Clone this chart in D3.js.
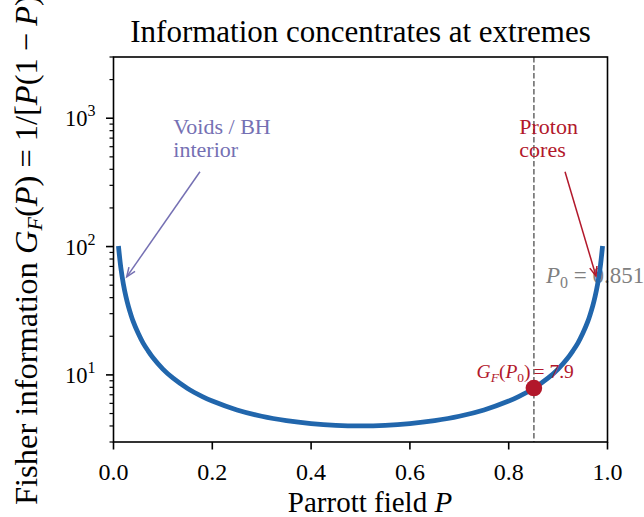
<!DOCTYPE html>
<html><head><meta charset="utf-8">
<script src="https://cdn.jsdelivr.net/npm/d3@7"></script>
<style>
body{margin:0;background:#fff}
svg text{font-family:"Liberation Serif","Times New Roman",serif}
</style>
</head><body><svg id="c" width="644" height="517"></svg>
<script>
// ---- data ----
const P = [0.01,0.015,0.02,0.025,0.03,0.04,0.05,0.06,0.07,0.08,0.10,0.12,0.15,0.18,0.20,0.25,0.30,0.35,0.40,0.45,0.50,
           0.55,0.60,0.65,0.70,0.75,0.80,0.82,0.85,0.88,0.90,0.92,0.93,0.94,0.95,0.96,0.97,0.975,0.98,0.985,0.99];
const G = [101.0,67.7,51.0,41.0,34.4,26.0,21.1,17.7,15.4,13.6,11.1,9.47,7.84,6.78,6.25,5.33,4.76,4.40,4.17,4.04,4.00,
           4.04,4.17,4.40,4.76,5.33,6.25,6.78,7.84,9.47,11.1,13.6,15.4,17.7,21.1,26.0,34.4,41.0,51.0,67.7,101.0];
const xTicks = [0,0.2,0.4,0.6,0.8,1.0];
const xTickLabels = ["0.0","0.2","0.4","0.6","0.8","1.0"];
const yTicks = [10,100,1000];
const yTickExps = ["1","2","3"];
const yMinor = [3,4,5,6,7,8,9,20,30,40,50,60,70,80,90,200,300,400,500,600,700,800,900,2000,3000];
const P0 = 0.851;
const GP0 = 7.9;
const voidsLines = ["Voids / BH","interior"];
const protonLines = ["Proton","cores"];

// ---- layout ----
const L=113.5,R=607.5,T=57,B=442;
const x = d3.scaleLinear().domain([0,1]).range([L,R]);
const y = d3.scaleLog().domain([3,3000]).range([B,T]);
const svg = d3.select("#c");
const blue="#2166ac", red="#b2182b", purple="#7570b3", gray="#808080";

// P0 label (below curve)
const p0t = svg.append("text").attr("x",x(0.8755)).attr("y",y(51.8))
  .attr("font-size",23).attr("fill",gray);
p0t.append("tspan").attr("font-style","italic").text("P");
p0t.append("tspan").attr("font-size",16).attr("dy",5).text("0");
p0t.append("tspan").attr("dy",-5).text(" = 0.851");

// dashed line
svg.append("line").attr("x1",x(P0)).attr("x2",x(P0)).attr("y1",T).attr("y2",B)
  .attr("stroke","#707070").attr("stroke-width",1.6).attr("stroke-dasharray","5.5,2.5");

svg.append("clipPath").attr("id","clip").append("rect").attr("x",L).attr("y",T).attr("width",R-L).attr("height",B-T);

// curve
const pts = P.map((p,i)=>[p,G[i]]);
svg.append("path").datum(pts).attr("clip-path","url(#clip)")
  .attr("d",d3.line().x(d=>x(d[0])).y(d=>y(d[1])).curve(d3.curveCatmullRom))
  .attr("fill","none").attr("stroke",blue).attr("stroke-width",4.8).attr("stroke-linecap","butt");

// marker
svg.append("circle").attr("cx",x(P0)).attr("cy",y(GP0)).attr("r",8.3).attr("fill",red);
const gt = svg.append("text").attr("x",x(0.735)).attr("y",y(9.41)).attr("font-size",19.5).attr("fill",red);
gt.append("tspan").attr("font-style","italic").text("G");
gt.append("tspan").attr("font-style","italic").attr("font-size",13.5).attr("dy",3.5).text("F");
gt.append("tspan").attr("dy",-3.5).text("(");
gt.append("tspan").attr("font-style","italic").text("P");
gt.append("tspan").attr("font-size",13.5).attr("dy",3.5).text("0");
gt.append("tspan").attr("dy",-3.5).text(")");
gt.append("tspan").attr("dx",3).text("= 7.9");

// annotations
function arrow(from,to,color){
  const x1=x(from[0]),y1=y(from[1]),x2=x(to[0]),y2=y(to[1]);
  svg.append("line").attr("x1",x1).attr("y1",y1).attr("x2",x2).attr("y2",y2)
    .attr("stroke",color).attr("stroke-width",1.5);
  const a=Math.atan2(y1-y2,x1-x2), len=10, sp=0.38;
  const p = `M${x2+len*Math.cos(a+sp)},${y2+len*Math.sin(a+sp)}L${x2},${y2}L${x2+len*Math.cos(a-sp)},${y2+len*Math.sin(a-sp)}`;
  svg.append("path").attr("d",p).attr("fill","none").attr("stroke",color).attr("stroke-width",1.5);
}
function lines(arr,pos,color){
  const t=svg.append("text").attr("x",x(pos[0])).attr("y",y(pos[1])).attr("font-size",22).attr("fill",color);
  arr.forEach((s,i)=>t.append("tspan").attr("x",x(pos[0])).attr("dy",i?23.4:0).text(s));
}
lines(voidsLines,[0.1211,760],purple);
arrow([0.175,383],[0.0267,58],purple);
lines(protonLines,[0.8215,760],red);
arrow([0.914,383],[0.9767,59],red);

// spines
svg.append("rect").attr("x",L).attr("y",T).attr("width",R-L).attr("height",B-T)
  .attr("fill","none").attr("stroke","#000").attr("stroke-width",1.6);

// x ticks
xTicks.forEach((v,i)=>{
  svg.append("line").attr("x1",x(v)).attr("x2",x(v)).attr("y1",B).attr("y2",B+7.5).attr("stroke","#000").attr("stroke-width",1.6);
  svg.append("text").attr("x",x(v)).attr("y",479.5).attr("text-anchor","middle").attr("font-size",24).text(xTickLabels[i]);
});
// y ticks
yTicks.forEach((v,i)=>{
  svg.append("line").attr("x1",L-7.5).attr("x2",L).attr("y1",y(v)).attr("y2",y(v)).attr("stroke","#000").attr("stroke-width",1.6);
  const t=svg.append("text").attr("x",65).attr("y",y(v)+8).attr("font-size",22.5);
  t.append("tspan").text("10");
  t.append("tspan").attr("font-size",16).attr("dy",-10).text(yTickExps[i]);
});
yMinor.forEach(v=>{
  svg.append("line").attr("x1",L-4).attr("x2",L).attr("y1",y(v)).attr("y2",y(v)).attr("stroke","#000").attr("stroke-width",1.2);
});

// title and labels
svg.append("text").attr("x",(L+R)/2).attr("y",42).attr("text-anchor","middle").attr("font-size",31)
  .text("Information concentrates at extremes");
const xl=svg.append("text").attr("x",370).attr("y",512).attr("text-anchor","middle").attr("font-size",29);
xl.append("tspan").text("Parrott field ");
xl.append("tspan").attr("font-style","italic").text("P");

const yl=svg.append("text").attr("transform",`translate(36.5,505) rotate(-90)`).attr("text-anchor","start").attr("font-size",32.5);
yl.append("tspan").text("Fisher information ");
yl.append("tspan").attr("font-style","italic").text("G");
yl.append("tspan").attr("font-style","italic").attr("font-size",22).attr("dy",5).text("F");
yl.append("tspan").attr("dy",-5).text("(");
yl.append("tspan").attr("font-style","italic").text("P");
yl.append("tspan").text(")");
yl.append("tspan").attr("dx",8).text("=");
yl.append("tspan").attr("dx",8).text("1/[");
yl.append("tspan").attr("font-style","italic").text("P");
yl.append("tspan").text("(1");
yl.append("tspan").attr("dx",7).text("\u2212");
yl.append("tspan").attr("dx",7).attr("font-style","italic").text("P");
yl.append("tspan").text(")]");
</script></body></html>
